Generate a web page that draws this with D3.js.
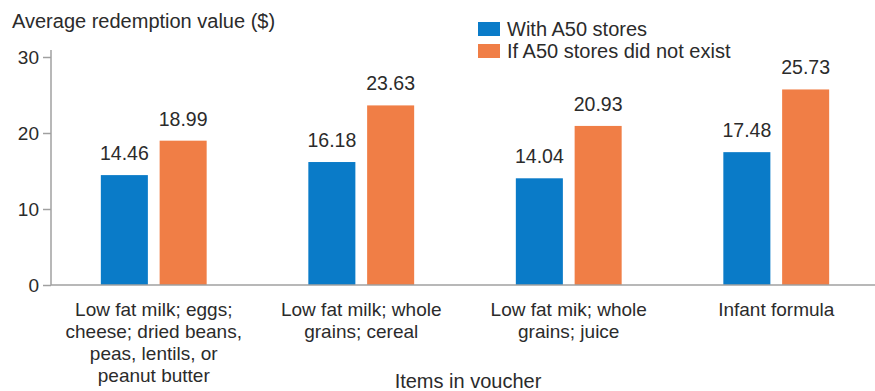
<!DOCTYPE html>
<html>
<head>
<meta charset="utf-8">
<script src="https://cdn.jsdelivr.net/npm/d3@7"></script>
<style>
  body { margin: 0; background: #fff; }
  svg text { font-family: "Liberation Sans", Arial, sans-serif; fill: #2b2b2b; }
</style>
</head>
<body>
<svg id="viz" width="875" height="391"></svg>
<script>
const width = 875;
const height = 391;
const svg = d3.select("#viz");

// data
const categories = ["g1", "g2", "g3", "g4"];
const categoryLines = [
    ["Low fat milk; eggs;", "cheese; dried beans,", "peas, lentils, or", "peanut butter"],
    ["Low fat milk; whole", "grains; cereal"],
    ["Low fat mik; whole", "grains; juice"],
    ["Infant formula"]
];
const seriesNames = ["With A50 stores", "If A50 stores did not exist"];
const withA50 = [14.46, 16.18, 14.04, 17.48];
const withoutA50 = [18.99, 23.63, 20.93, 25.73];
const yTicks = [0, 10, 20, 30];
const colors = ["#0a7bc8", "#f07e46"];

const rows = categories.map((c, i) => ({ cat: c, values: [withA50[i], withoutA50[i]] }));

// scales
const x0 = d3.scaleBand().domain(categories).range([50, 880])
    .paddingInner(0.49).paddingOuter(0.245);
const x1 = d3.scaleBand().domain([0, 1]).range([0, x0.bandwidth()]).paddingInner(0.2);
const y = d3.scaleLinear().domain([0, 30]).range([285, 57]);

// y axis
const yAxis = svg.append("g")
    .attr("transform", "translate(51,0)")
    .call(d3.axisLeft(y).tickValues(yTicks).tickSize(8).tickPadding(4));
yAxis.select(".domain").remove();
yAxis.selectAll(".tick line").attr("stroke", "#a0a0a0").attr("stroke-width", 1.5);
yAxis.selectAll(".tick text").style("font-size", "19px").attr("fill", "#2b2b2b");

svg.append("line")
    .attr("x1", 51).attr("x2", 51)
    .attr("y1", y(30) - 7).attr("y2", y(0))
    .attr("stroke", "#a0a0a0").attr("stroke-width", 1.5);

// bars
const groups = svg.selectAll(".grp")
    .data(rows)
    .enter().append("g")
    .attr("class", "grp")
    .attr("transform", d => `translate(${x0(d.cat)},0)`);

groups.selectAll("rect")
    .data(d => d.values.map((v, i) => ({ v, i })))
    .enter().append("rect")
    .attr("x", d => x1(d.i))
    .attr("width", x1.bandwidth())
    .attr("y", d => y(d.v))
    .attr("height", d => y(0) - y(d.v))
    .attr("fill", d => colors[d.i]);

groups.selectAll(".val")
    .data(d => d.values.map((v, i) => ({ v, i })))
    .enter().append("text")
    .attr("class", "val")
    .attr("x", d => x1(d.i) + x1.bandwidth() / 2)
    .attr("y", d => y(d.v) - 15)
    .attr("text-anchor", "middle")
    .style("font-size", "19.5px")
    .text(d => d.v.toFixed(2));

// x axis line
svg.append("line")
    .attr("x1", 51).attr("x2", width)
    .attr("y1", y(0)).attr("y2", y(0))
    .attr("stroke", "#a0a0a0").attr("stroke-width", 1.5);

// category labels
categories.forEach((c, i) => {
    const t = svg.append("text")
        .attr("x", x0(c) + x0.bandwidth() / 2)
        .attr("y", 316)
        .attr("text-anchor", "middle")
        .style("font-size", "19px");
    categoryLines[i].forEach((line, j) => {
        t.append("tspan")
            .attr("x", x0(c) + x0.bandwidth() / 2)
            .attr("dy", j === 0 ? 0 : 22)
            .text(line);
    });
});

// axis titles
svg.append("text")
    .attr("x", 12).attr("y", 28)
    .style("font-size", "20px")
    .text("Average redemption value ($)");

svg.append("text")
    .attr("x", 468).attr("y", 388)
    .attr("text-anchor", "middle")
    .style("font-size", "20px")
    .text("Items in voucher");

// legend
const legend = svg.append("g").attr("transform", "translate(478,22)");
seriesNames.forEach((name, i) => {
    legend.append("rect")
        .attr("x", 0).attr("y", i * 22)
        .attr("width", 22).attr("height", 14)
        .attr("fill", colors[i]);
    legend.append("text")
        .attr("x", 29).attr("y", i * 22 + 14)
        .style("font-size", "20px")
        .text(name);
});
</script>
</body>
</html>
